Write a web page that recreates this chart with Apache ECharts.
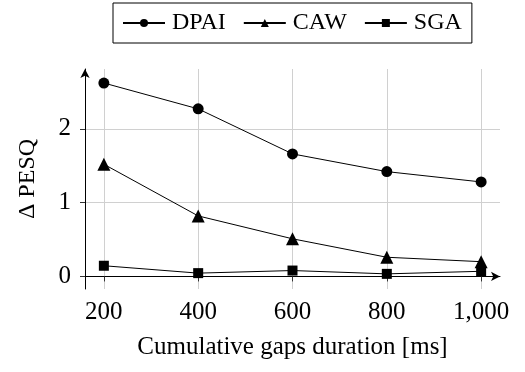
<!DOCTYPE html>
<html>
<head>
<meta charset="utf-8">
<script src="https://cdn.jsdelivr.net/npm/echarts@6/dist/echarts.min.js"></script>
<style>
  html, body { margin: 0; padding: 0; background: #fff; }
  #chart { width: 525px; height: 372px; }
</style>
</head>
<body>
<div id="chart"></div>
<script>
const gaps = [200, 400, 600, 800, 1000]
const dpai = [2.62, 2.27, 1.66, 1.42, 1.28]
const caw = [1.52, 0.82, 0.51, 0.26, 0.2]
const sga = [0.145, 0.045, 0.08, 0.035, 0.07]
const yTicks = [0, 1, 2]

const font = '"Liberation Serif", "Times New Roman", serif'

const chart = echarts.init(document.getElementById('chart'))

function makeSeries(name, values, symbol, size) {
    return {
        name: name,
        type: 'line',
        data: gaps.map((g, i) => [g, values[i]]),
        symbol: symbol,
        symbolSize: size,
        showAllSymbol: true,
        lineStyle: { color: '#000', width: 1 },
        itemStyle: { color: '#000' },
        emphasis: { disabled: true },
        animation: false,
    }
}

const option = {
    animation: false,
    textStyle: { fontFamily: font },
    legend: {
        left: 113,
        top: 3,
        padding: [8, 10, 8, 9],
        borderColor: '#000',
        borderWidth: 1,
        borderRadius: 0,
        itemWidth: 42,
        itemHeight: 10,
        itemGap: 17,
        textStyle: { fontFamily: font, fontSize: 24, color: '#000', padding: [0, 0, 0, 2] },
        data: ['DPAI', 'CAW', 'SGA'],
    },
    grid: { left: 85, right: 25, top: 69, bottom: 83 },
    xAxis: {
        type: 'value',
        min: 160,
        max: 1040,
        name: 'Cumulative gaps duration [ms]',
        nameLocation: 'middle',
        nameGap: 46,
        nameTextStyle: { fontFamily: font, fontSize: 25, color: '#000' },
        axisLine: { show: true, symbol: ['none', 'arrow'], symbolSize: [7, 9], lineStyle: { color: '#000', width: 1 } },
        axisTick: { show: true, customValues: gaps, length: 5, lineStyle: { color: '#333' } },
        axisLabel: {
            customValues: gaps,
            margin: 11,
            fontFamily: font,
            fontSize: 25,
            color: '#000',
            formatter: v => v >= 1000 ? '1,000' : String(v),
        },
        splitLine: { show: true, lineStyle: { color: '#d0d0d0', width: 1 } },
    },
    yAxis: {
        type: 'value',
        min: -0.17,
        max: 2.81,
        name: 'Δ PESQ',
        nameLocation: 'middle',
        nameGap: 45,
        nameRotate: 90,
        nameTextStyle: { fontFamily: font, fontSize: 24, color: '#000' },
        axisLine: { show: true, symbol: ['none', 'arrow'], symbolSize: [7, 9], lineStyle: { color: '#000', width: 1 } },
        axisTick: { show: true, customValues: yTicks, length: 5, lineStyle: { color: '#333' } },
        axisLabel: {
            customValues: yTicks,
            margin: 14,
            fontFamily: font,
            fontSize: 25,
            color: '#000',
        },
        splitLine: { show: true, lineStyle: { color: '#d0d0d0', width: 1 } },
    },
    series: [
        makeSeries('DPAI', dpai, 'circle', 11),
        makeSeries('CAW', caw, 'triangle', 13),
        makeSeries('SGA', sga, 'rect', 10),
    ],
}

chart.setOption(option)
</script>
</body>
</html>
